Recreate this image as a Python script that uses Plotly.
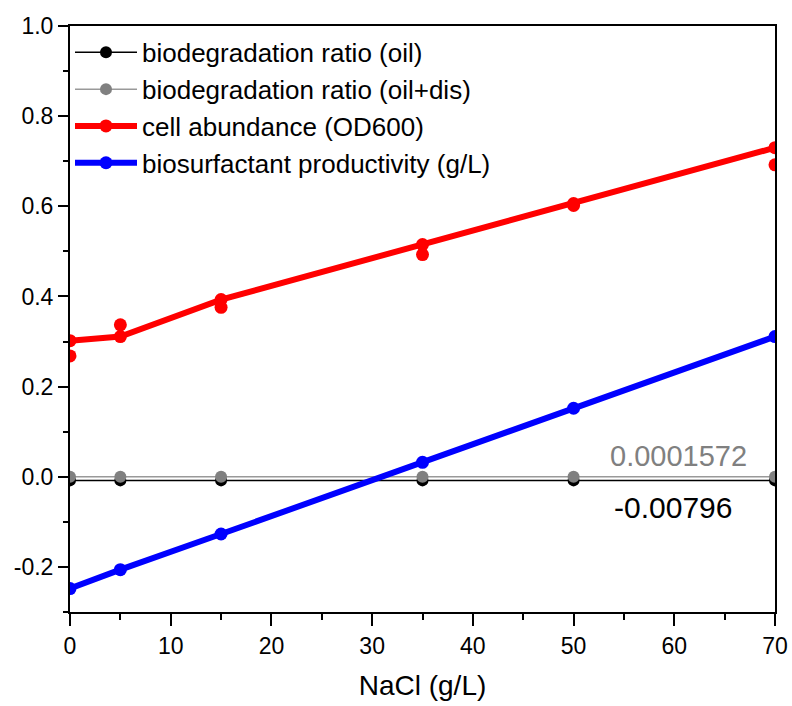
import plotly.graph_objects as go

nacl = [0, 5, 15, 35, 50, 70]
ratio_oil = [-0.0080, -0.0080, -0.0080, -0.0080, -0.0080, -0.0080]
ratio_oil_dis = [0.00016, 0.00016, 0.00016, 0.00016, 0.00016, 0.00016]
cell_od600 = [0.302, 0.311, 0.393, 0.515, 0.606, 0.730]
cell_od600_rep = [0.268, 0.337, 0.376, 0.493, 0.602, 0.692]
biosurf = [-0.248, -0.206, -0.127, 0.032, 0.152, 0.311]

names = ["biodegradation ratio (oil)", "biodegradation ratio (oil+dis)",
         "cell abundance (OD600)", "biosurfactant productivity (g/L)"]
ann_texts = ["0.0001572", "-0.00796"]
ann_x = [60.4, 59.9]
ann_y = [0.046, -0.068]

y_tickvals = [-0.2, 0.0, 0.2, 0.4, 0.6, 0.8, 1.0]
y_ticktext = ["-0.2", "0.0", "0.2", "0.4", "0.6", "0.8", "1.0"]
x_tickvals = [0, 10, 20, 30, 40, 50, 60, 70]
x_ticktext = ["0", "10", "20", "30", "40", "50", "60", "70"]

FONT = "Liberation Sans, Arial, sans-serif"

fig = go.Figure()
fig.add_trace(go.Scatter(x=nacl, y=ratio_oil, name=names[0], mode="lines+markers",
                         line=dict(color="black", width=1.5),
                         marker=dict(color="black", size=12)))
fig.add_trace(go.Scatter(x=nacl, y=ratio_oil_dis, name=names[1], mode="lines+markers",
                         line=dict(color="#999999", width=1.5),
                         marker=dict(color="#808080", size=12)))
fig.add_trace(go.Scatter(x=nacl, y=cell_od600_rep, mode="markers", showlegend=False,
                         marker=dict(color="#ff0000", size=13)))
fig.add_trace(go.Scatter(x=nacl, y=cell_od600, name=names[2], mode="lines+markers",
                         line=dict(color="#ff0000", width=6),
                         marker=dict(color="#ff0000", size=13)))
fig.add_trace(go.Scatter(x=nacl, y=biosurf, name=names[3], mode="lines+markers",
                         line=dict(color="#0000ff", width=6),
                         marker=dict(color="#0000ff", size=13)))

fig.add_annotation(x=ann_x[0], y=ann_y[0], text=ann_texts[0], showarrow=False,
                   font=dict(family=FONT, size=29, color="#808080"))
fig.add_annotation(x=ann_x[1], y=ann_y[1], text=ann_texts[1], showarrow=False,
                   font=dict(family=FONT, size=30, color="black"))

fig.update_layout(
    width=792, height=706,
    margin=dict(l=70, r=17, t=26, b=94),
    paper_bgcolor="white", plot_bgcolor="white",
    font=dict(family=FONT, color="black"),
    showlegend=True,
    legend=dict(x=0.0, y=0.995, xanchor="left", yanchor="top",
                font=dict(family=FONT, size=26, color="black"),
                bgcolor="rgba(0,0,0,0)", itemwidth=62, tracegroupgap=0),
)
fig.update_xaxes(
    range=[0, 70], tickvals=x_tickvals, ticktext=x_ticktext, automargin=False,
    showline=True, linecolor="black", linewidth=2, mirror=True,
    ticks="outside", ticklen=12, tickwidth=2, tickcolor="black",
    minor=dict(dtick=5, tick0=0, ticks="outside", ticklen=6, tickwidth=2, tickcolor="black"),
    showgrid=False, zeroline=False,
    tickfont=dict(family=FONT, size=23),
    title=dict(text="NaCl (g/L)", font=dict(family=FONT, size=28), standoff=18),
)
fig.update_yaxes(
    range=[-0.3, 1.0], tickvals=y_tickvals, ticktext=y_ticktext, automargin=False,
    showline=True, linecolor="black", linewidth=2, mirror=True,
    ticks="outside", ticklen=10, tickwidth=2, tickcolor="black",
    minor=dict(dtick=0.1, tick0=0, ticks="outside", ticklen=5, tickwidth=2, tickcolor="black"),
    showgrid=False, zeroline=False,
    tickfont=dict(family=FONT, size=23),
)

fig.write_html("out.html")
